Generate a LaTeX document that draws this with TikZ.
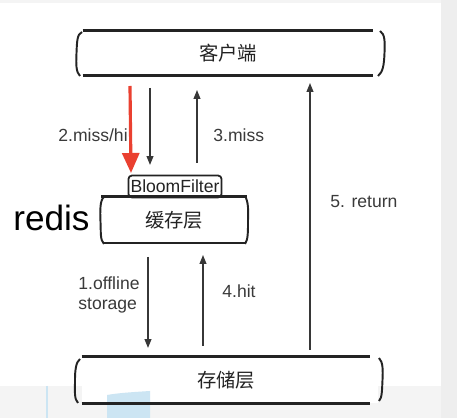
\documentclass[tikz,border=0pt]{standalone}
\usepackage{fontspec}
\setmainfont{Liberation Sans}
\newfontfamily\cjk{Noto Sans CJK SC}
\usetikzlibrary{arrows.meta}
\definecolor{inkgray}{RGB}{35,35,35}
\definecolor{arrowgray}{RGB}{55,55,55}
\definecolor{labelgray}{RGB}{58,58,58}
\definecolor{alertred}{RGB}{234,64,48}
\definecolor{edgegray}{RGB}{238,238,238}
\definecolor{floorgray}{RGB}{244,244,244}
\definecolor{patchblue}{RGB}{204,229,243}

\begin{document}
\begin{tikzpicture}[
    x=0.02cm, y=-0.02cm,
    >={Triangle[length=5pt, width=3.8pt]},
    layer/.style={minimum width=5.8cm, minimum height=0.88cm, inner sep=0pt, text=inkgray, font=\cjk\fontsize{11}{13}\selectfont},
    layerline/.style={inkgray, line width=1.5pt},
    sideline/.style={inkgray, line width=1.1pt},
    flow/.style={arrowgray, line width=0.85pt, ->},
    flowlabel/.style={text=labelgray, font=\fontsize{10}{11.5}\selectfont, inner sep=0pt, anchor=west, align=left}
]

% Background
\useasboundingbox (0,0) rectangle (457,418);
\fill[white] (0,0) rectangle (457,418);
\fill[floorgray] (0,0) rectangle (441,3);
\fill[floorgray] (0,386) rectangle (441,418);
\fill[white] (82,357) rectangle (378,403);
\fill[edgegray] (441,0) rectangle (457,418);
\fill[patchblue] (107,395) .. controls (118,393) and (134,392) .. (150,391) -- (150,418) -- (107,418) -- cycle;
\draw[patchblue, line width=1pt] (47,386) -- (47,418);

% 1. CLIENT LAYER (top)
\node[layer] (client) at (228,53) {客户端};
\draw[layerline] (client.north west) -- (client.north east);
\draw[layerline] (client.south west) -- (client.south east);
\draw[sideline] (82,32) .. controls (77,34) and (77,42) .. (76.5,53) .. controls (76,65) and (76,72) .. (80,76);
\draw[sideline] (380,31) .. controls (385,34) and (385,42) .. (384.5,53) .. controls (384,65) and (383,72) .. (378,76);

% 2. CACHE LAYER + BLOOM FILTER (middle)
\node[layer, minimum width=2.9cm, minimum height=0.92cm] (cache) at (174,220) {缓存层};
\draw[layerline] (cache.north west) -- (cache.north east);
\draw[layerline] (103,243) -- (245,243);
\draw[sideline] (104,197) .. controls (100,200) and (100,210) .. (100.5,222) .. controls (101,232) and (100,240) .. (104,244);
\draw[sideline] (246,198) .. controls (249,205) and (248,215) .. (248,222) .. controls (248,232) and (248,240) .. (245,244);
\node[draw=inkgray, line width=1pt, rounded corners=2pt, inner sep=1.2pt, minimum height=0.44cm, text=inkgray, font=\fontsize{10}{12}\selectfont] (bloom) at (175,186.5) {BloomFilter};
\node[text=black, font=\fontsize{20}{24}\selectfont, inner sep=0pt, anchor=west] (redis) at (13,218) {redis};

% 3. STORAGE LAYER (bottom)
\node[layer, minimum width=5.76cm, minimum height=0.92cm] (store) at (226,380) {存储层};
\draw[layerline] (store.north west) -- (store.north east);
\draw[layerline] (store.south west) -- (store.south east);
\draw[sideline] (80,359) .. controls (76,362) and (75,370) .. (75,380) .. controls (75,391) and (74,399) .. (78,403);
\draw[sideline] (379,358) .. controls (383,362) and (383,370) .. (382.5,380) .. controls (382,391) and (382,398) .. (379,401);

% 4. FLOW ARROWS
\coordinate (qtop) at (150,88);  \coordinate (qbot) at (150,165);
\coordinate (mbot) at (197,163); \coordinate (mtop) at (197,90);
\coordinate (otop) at (148,257); \coordinate (obot) at (148,348);
\coordinate (hbot) at (203,346); \coordinate (htop) at (203,255);
\coordinate (rbot) at (310,350); \coordinate (rtop) at (310,83);
\coordinate (redtop) at (130,86); \coordinate (redtip) at (131,173);

\draw[flow] (qtop) -- (qbot);
\draw[flow] (mbot) -- (mtop);
\draw[flow] (otop) -- (obot);
\draw[flow] (hbot) -- (htop);
\draw[flow] (rbot) -- (rtop);

% Labels
\node[flowlabel] (lquery) at (58,135) {2.miss/hi};
\node[flowlabel] (lmiss) at (213,135) {3.miss};
\node[flowlabel] (loffline) at (78,295) {1.offline\\storage};
\node[flowlabel] (lhit) at (222,291) {4.hit};
\node[flowlabel] (lreturn) at (330,202) {5. return};

% Red highlight arrow
\draw[alertred, line width=1.8pt, -{Triangle[length=0.4cm, width=0.34cm]}] (redtop) -- (redtip);

\end{tikzpicture}
\end{document}
